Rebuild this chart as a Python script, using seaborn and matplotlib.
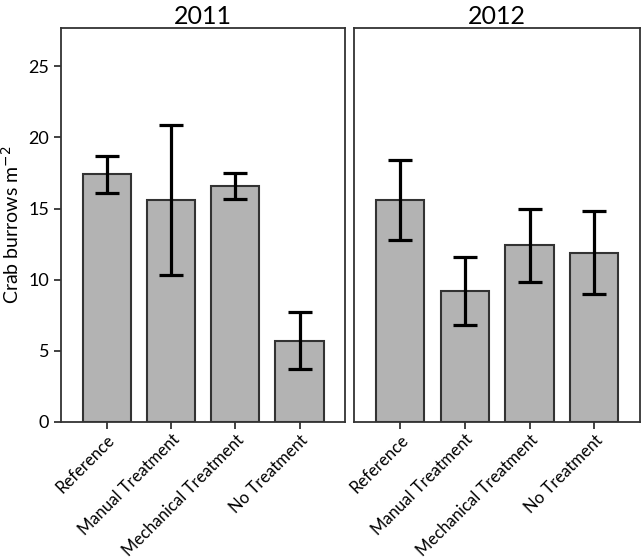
import numpy as np
import pandas as pd
import matplotlib
matplotlib.use("Agg")
import matplotlib.pyplot as plt
import seaborn as sns

# values (means and error bar ends)
treatments = ["Reference", "Manual Treatment", "Mechanical Treatment", "No Treatment"]
years = ["2011", "2012"]
means_2011 = [17.4, 15.6, 16.6, 5.7]
low_2011 = [16.1, 10.3, 15.7, 3.7]
high_2011 = [18.7, 20.9, 17.5, 7.7]
means_2012 = [15.6, 9.2, 12.4, 11.9]
low_2012 = [12.8, 6.8, 9.8, 9.0]
high_2012 = [18.4, 11.6, 15.0, 14.8]

sns.set_style("white")
plt.rcParams['font.family'] = ['Lato', 'DejaVu Sans']
plt.rcParams['text.color'] = 'black'
plt.rcParams['xtick.color'] = 'black'
plt.rcParams['ytick.color'] = 'black'
plt.rcParams['axes.labelcolor'] = 'black'

fig = plt.figure(figsize=(6.44, 5.58), dpi=100)
ax1 = fig.add_axes([0.095, 0.244, 0.441, 0.706])
ax2 = fig.add_axes([0.55, 0.244, 0.444, 0.706])

panels = [(ax1, means_2011, low_2011, high_2011),
          (ax2, means_2012, low_2012, high_2012)]

for (ax, m, lo, hi), yr in zip(panels, years):
    df = pd.DataFrame({"treatment": treatments, "mean": m})
    sns.barplot(data=df, x="treatment", y="mean", ax=ax, color="#b3b3b3",
                saturation=1, width=0.75, edgecolor="#333333", linewidth=1.5)
    m = np.array(m)
    err = [m - np.array(lo), np.array(hi) - m]
    ax.errorbar(np.arange(len(treatments)), m, yerr=err, fmt="none",
                ecolor="black", elinewidth=2.3, capsize=8.5, capthick=2.3, zorder=5)
    ax.set_xlim(-0.71, 3.71)
    ax.set_ylim(0, 27.7)
    ax.set_title(yr, fontsize=18, pad=3)
    ax.set_xlabel("")
    ax.set_ylabel("")
    for s in ax.spines.values():
        s.set_color("#333333")
        s.set_linewidth(1.3)
    ax.set_xticks(range(len(treatments)))
    ax.set_xticklabels(treatments, rotation=45, ha="right", rotation_mode="anchor",
                       fontsize=12)
    ax.tick_params(axis="x", direction="out", length=5, width=1.3, color="#333333",
                   bottom=True, pad=2)

ax1.set_yticks([0, 5, 10, 15, 20, 25])
ax1.tick_params(axis="y", direction="out", length=5, width=1.3, color="#333333",
                left=True, labelsize=13)
ax1.set_ylabel("Crab burrows m$^{-2}$", fontsize=14, labelpad=5)
ax2.set_yticks([])

fig.savefig("out.png", dpi=100)
